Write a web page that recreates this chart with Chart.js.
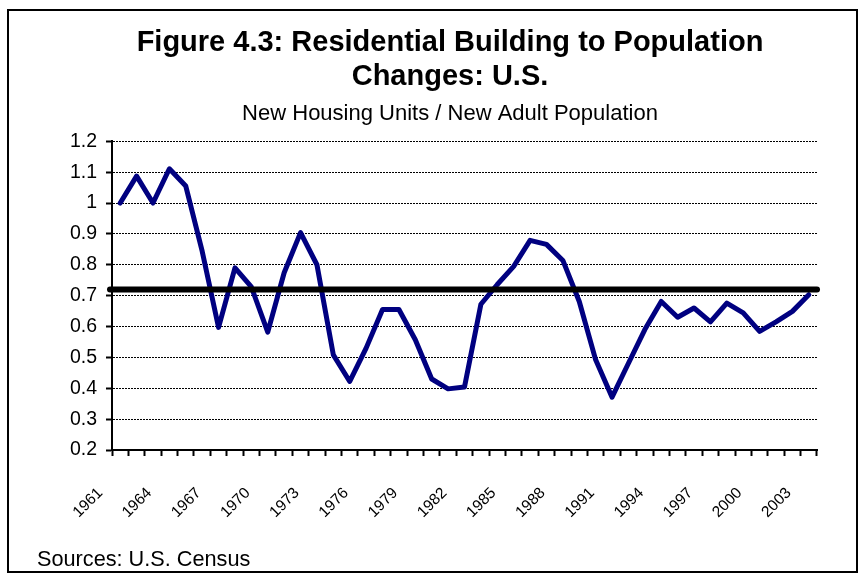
<!DOCTYPE html>
<html>
<head>
<meta charset="utf-8">
<script src="https://cdn.jsdelivr.net/npm/chart.js@4.4.1/dist/chart.umd.min.js"></script>
<style>
  html, body { margin: 0; padding: 0; background: #fff; }
  #wrap { position: relative; width: 863px; height: 579px; overflow: hidden; }
  #frame { position: absolute; left: 7px; top: 9px; width: 847px; height: 560px; border: 2px solid #000; pointer-events: none; }
  #src { position: absolute; left: 37px; top: 548px; font: 21.7px "Liberation Sans", Arial, sans-serif; line-height: 1; color: #000; }
  canvas { position: absolute; left: 0; top: 0; }
</style>
</head>
<body>
<div id="wrap">
  <canvas id="c" width="863" height="579"></canvas>
  <div id="frame"></div>
  <div id="src">Sources: U.S. Census</div>
</div>
<script>
// ---- data ----
const years = [1961,1962,1963,1964,1965,1966,1967,1968,1969,1970,1971,1972,1973,1974,1975,1976,1977,1978,1979,1980,1981,1982,1983,1984,1985,1986,1987,1988,1989,1990,1991,1992,1993,1994,1995,1996,1997,1998,1999,2000,2001,2002,2003];
const ratio = [1.00,1.087,1.00,1.111,1.055,0.844,0.597,0.79,0.728,0.582,0.774,0.904,0.80,0.508,0.422,0.53,0.655,0.655,0.557,0.43,0.398,0.404,0.672,0.736,0.795,0.879,0.866,0.814,0.681,0.492,0.371,0.481,0.59,0.681,0.63,0.66,0.615,0.676,0.644,0.584,0.615,0.649,0.703];
const averageRatio = 0.72;
const titleLines = ["Figure 4.3: Residential Building to Population", "Changes: U.S."];
const subtitleText = "New Housing Units / New Adult Population";
const yMin = 0.2, yMax = 1.2, yStep = 0.1;
const labelEvery = 3;

const FONT = '"Liberation Sans", Arial, sans-serif';

const avgLinePlugin = {
  id: 'avgLine',
  afterDatasetsDraw(chart) {
    const {ctx, chartArea, scales} = chart;
    const y = scales.y.getPixelForValue(averageRatio);
    ctx.save();
    ctx.strokeStyle = '#000';
    ctx.lineWidth = 6;
    ctx.lineCap = 'round';
    ctx.beginPath();
    ctx.moveTo(chartArea.left - 2, y);
    ctx.lineTo(chartArea.right, y);
    ctx.stroke();
    ctx.restore();
  }
};

new Chart(document.getElementById('c'), {
  type: 'line',
  data: {
    labels: years.map(String),
    datasets: [{
      data: ratio,
      yAxisID: 'y',
      borderColor: '#000080',
      borderWidth: 5,
      pointRadius: 0,
      tension: 0,
      borderJoinStyle: 'round',
      borderCapStyle: 'round',
      fill: false
    }]
  },
  plugins: [avgLinePlugin],
  options: {
    responsive: false,
    animation: false,
    devicePixelRatio: 1,
    layout: { padding: { left: 37, right: 0, top: 0, bottom: 0 } },
    plugins: {
      legend: { display: false },
      tooltip: { enabled: false },
      title: {
        display: true,
        text: titleLines,
        color: '#000',
        font: { family: FONT, size: 29, weight: 'bold', lineHeight: 1.17 },
        padding: { top: 26, bottom: 0 }
      },
      subtitle: {
        display: true,
        text: subtitleText,
        color: '#000',
        font: { family: FONT, size: 22, lineHeight: 1.2 },
        padding: { top: 7, bottom: 14 }
      }
    },
    scales: {
      x: {
        type: 'category',
        offset: true,
        grid: { offset: true, drawOnChartArea: false, drawTicks: true, tickLength: 6, tickWidth: 2, tickColor: '#000', color: '#000' },
        border: { display: true, color: '#000', width: 2 },
        ticks: {
          autoSkip: false,
          maxRotation: 45,
          minRotation: 45,
          labelOffset: -20,
          padding: 28,
          color: '#000',
          font: { family: FONT, size: 15.5 },
          callback: function(v, i) { return i % labelEvery === 0 ? this.getLabelForValue(v) : ''; }
        },
        afterFit(scale) { scale.height = 129; }
      },
      y: {
        position: 'left',
        min: yMin,
        max: yMax,
        grid: { color: '#000', lineWidth: 1, drawTicks: true, tickLength: 6, tickWidth: 2, tickColor: '#000', tickBorderDash: [] },
        border: { display: true, color: '#000', width: 2, dash: [2, 1] },
        ticks: {
          stepSize: yStep,
          padding: 9,
          color: '#000',
          font: { family: FONT, size: 19.5 },
          callback: (v) => String(Number(v.toFixed(1)))
        },
        afterFit(scale) { scale.width = 75; }
      },
      yPad: {
        position: 'right',
        min: 0,
        max: 1,
        grid: { display: false, drawTicks: false },
        border: { display: false },
        ticks: { display: false },
        afterFit(scale) { scale.width = 46; }
      }
    }
  }
});
</script>
</body>
</html>
